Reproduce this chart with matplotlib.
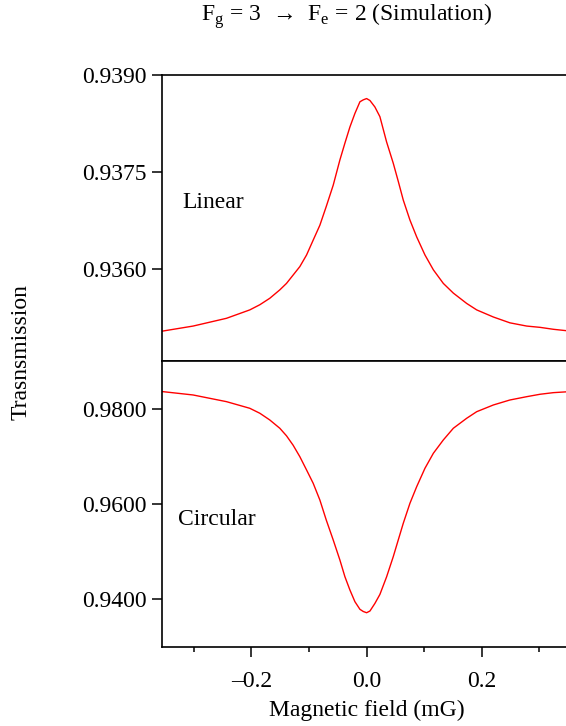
import numpy as np
import matplotlib
matplotlib.use("Agg")
import matplotlib.pyplot as plt
from matplotlib.ticker import MultipleLocator, FormatStrFormatter, FuncFormatter

plt.rcParams['font.family'] = ['Liberation Serif', 'DejaVu Serif']
plt.rcParams['mathtext.fontset'] = 'custom'
plt.rcParams['mathtext.rm'] = 'Liberation Serif'

# Magnetic field sweep (mG)
field = [-0.356, -0.3015, -0.2435, -0.2030, -0.1855, -0.1682, -0.1508,
         -0.1392, -0.1276, -0.1160, -0.1043, -0.0928, -0.0812, -0.0701,
         -0.0580, -0.0464, -0.0377, -0.0290, -0.0203, -0.0116, -0.0058,
         0.0,
         0.0058, 0.0144, 0.0231, 0.0347, 0.0463, 0.0550, 0.0637, 0.0753,
         0.0870, 0.1014, 0.1160, 0.1333, 0.1507, 0.1739, 0.1913, 0.2203,
         0.2490, 0.2782, 0.3014, 0.3246, 0.356]

# Linear polarisation transmission
linear = [0.93504, 0.93512, 0.93524, 0.93537, 0.93545, 0.93555, 0.93568,
          0.93578, 0.93591, 0.93604, 0.93622, 0.93645, 0.93668, 0.93697,
          0.93730, 0.93769, 0.93795, 0.93820, 0.93841, 0.93859, 0.93862,
          0.93864,
          0.93861, 0.93851, 0.93836, 0.93797, 0.93764, 0.93736, 0.93707,
          0.93676, 0.93650, 0.93622, 0.93599, 0.93578, 0.93563, 0.93547,
          0.93537, 0.93526, 0.93517, 0.93512, 0.93510, 0.93507, 0.93504]

# Circular polarisation transmission
circular = [0.98375, 0.98302, 0.98161, 0.98021, 0.97916, 0.97774, 0.97599,
            0.97440, 0.97240, 0.96999, 0.96718, 0.96437, 0.96084, 0.95662,
            0.95240, 0.94817, 0.94465, 0.94184, 0.93937, 0.93776, 0.93730,
            0.93704,
            0.93740, 0.93900, 0.94090, 0.94460, 0.94887, 0.95240, 0.95592,
            0.96015, 0.96365, 0.96754, 0.97071, 0.97352, 0.97599, 0.97810,
            0.97949, 0.98091, 0.98196, 0.98266, 0.98317, 0.98351, 0.98375]


def xfmt(v, pos):
    s = f'{abs(v):.1f}'
    return '\u2013' + s if v < -1e-9 else s


fig = plt.figure(figsize=(5.66, 7.26), dpi=100)
ax1 = fig.add_axes([0.2857, 0.5028, 0.724, 0.3935])
ax2 = fig.add_axes([0.2857, 0.1088, 0.724, 0.3940])

for ax in (ax1, ax2):
    ax.set_xlim(-0.356, 0.356)
    ax.xaxis.set_major_locator(MultipleLocator(0.2))
    ax.xaxis.set_minor_locator(MultipleLocator(0.1))
    ax.xaxis.set_major_formatter(FuncFormatter(xfmt))
    ax.tick_params(axis='both', which='major', direction='out', length=7,
                   width=1.1, labelsize=17, pad=4)
    ax.tick_params(axis='x', which='major', pad=10)
    ax.tick_params(axis='x', which='minor', direction='out', length=3.5, width=1.1)
    ax.tick_params(top=False, right=False)
    for s in ax.spines.values():
        s.set_linewidth(1.2)
    ax.spines['right'].set_visible(False)

ax1.plot(field, linear, color='red', linewidth=1.0)
ax1.set_ylim(0.93458, 0.9390)
ax1.set_yticks([0.9360, 0.9375, 0.9390])
ax1.yaxis.set_major_formatter(FormatStrFormatter('%.4f'))
ax1.tick_params(axis='x', labelbottom=False)
ax1.text(-0.32, 0.937025, 'Linear', fontsize=17, va='center', ha='left')

ax2.plot(field, circular, color='red', linewidth=1.0)
ax2.set_ylim(0.9298, 0.9902)
ax2.set_yticks([0.9400, 0.9600, 0.9800])
ax2.yaxis.set_major_formatter(FormatStrFormatter('%.4f'))
ax2.text(-0.327, 0.95683, 'Circular', fontsize=17, va='center', ha='left')
ax2.set_xlabel('Magnetic field (mG)', fontsize=17, labelpad=6)

fig.text(0.037, 0.515, 'Trasnsmission', rotation=90, fontsize=17,
         ha='center', va='center')
fig.text(0.613, 0.978, 'F$_\\mathrm{g}$ = 3  \u2192  F$_\\mathrm{e}$ = 2 (Simulation)',
         fontsize=17, ha='center', va='center')

fig.savefig('out.png', dpi=100)
